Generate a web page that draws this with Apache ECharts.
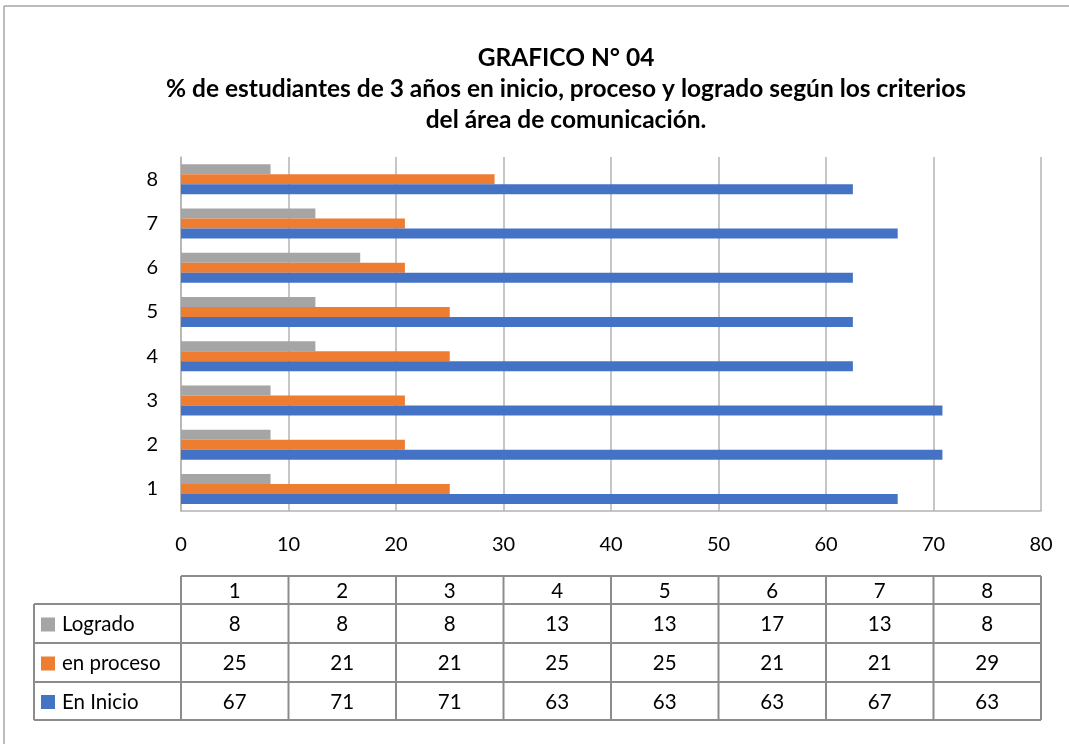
<!DOCTYPE html>
<html>
<head>
<meta charset="utf-8">
<script src="https://cdn.jsdelivr.net/npm/echarts@6/dist/echarts.min.js"></script>
<style>
  html, body { margin: 0; padding: 0; background: #fff; }
  #chart { width: 1069px; height: 744px; }
</style>
</head>
<body>
<div id="chart"></div>
<script>
// datos
const categories = ['1', '2', '3', '4', '5', '6', '7', '8'];
const logrado   = [8.33, 8.33, 8.33, 12.5, 12.5, 16.67, 12.5, 8.33];
const enProceso = [25, 20.83, 20.83, 25, 25, 20.83, 20.83, 29.17];
const enInicio  = [66.67, 70.83, 70.83, 62.5, 62.5, 62.5, 66.67, 62.5];
const seriesNames = ['Logrado', 'en proceso', 'En Inicio'];
const colors = { 'Logrado': '#A5A5A5', 'en proceso': '#ED7D31', 'En Inicio': '#4472C4' };
const titleLines = [
    'GRAFICO N° 04',
    '% de estudiantes de 3 años en inicio, proceso y logrado según los criterios',
    'del área de comunicación.'
];

const FONT = 'Lato';
const chart = echarts.init(document.getElementById('chart'), null, { renderer: 'canvas' });

const barSeries = (name, data) => ({
    name: name,
    type: 'bar',
    data: data,
    barWidth: 10,
    barGap: '0%',
    itemStyle: { color: colors[name] },
    silent: true
});

const option = {
    backgroundColor: '#fff',
    animation: false,
    grid: { left: 181, right: 28, top: 157, bottom: 233, containLabel: false },
    xAxis: {
        type: 'value',
        min: 0,
        max: 80,
        interval: 10,
        axisLine: { show: true, lineStyle: { color: '#b3b3b3', width: 1.5 } },
        axisTick: { show: false },
        splitLine: { show: true, lineStyle: { color: '#b3b3b3', width: 1.5 } },
        axisLabel: { margin: 24, fontFamily: FONT, fontSize: 20, color: '#000' }
    },
    yAxis: {
        type: 'category',
        data: categories,
        axisLine: { show: true, lineStyle: { color: '#b3b3b3', width: 1.5 } },
        axisTick: { show: false },
        axisLabel: { margin: 23, fontFamily: FONT, fontSize: 20, color: '#000' }
    },
    series: [
        barSeries('Logrado', logrado),
        barSeries('en proceso', enProceso),
        barSeries('En Inicio', enInicio)
    ]
};
chart.setOption(option);

// titulo y tabla de datos debajo del grafico
function buildTable() {
    const lineColor = '#8c8c8c';
    const rows = [576, 604, 643, 682, 720];
    const leftX = 34;
    const colX = [];
    for (let i = 0; i <= categories.length; i++) {
        colX.push(chart.convertToPixel({ xAxisIndex: 0 }, i * 10));
    }
    const els = [];
    const line = (x1, y1, x2, y2) => els.push({
        type: 'line', silent: true,
        shape: { x1: x1, y1: y1, x2: x2, y2: y2 },
        style: { stroke: lineColor, lineWidth: 2 }
    });
    const text = (x, y, s, align) => els.push({
        type: 'text', silent: true, x: x, y: y,
        style: { text: s, fill: '#000', font: '20.5px ' + FONT, align: align || 'center', verticalAlign: 'middle' }
    });

    // titulo
    els.push({
        type: 'text', silent: true, x: 566, y: 43,
        style: {
            text: titleLines.join('\n'), fill: '#000', font: 'bold 24.5px ' + FONT,
            lineHeight: 31, align: 'center', verticalAlign: 'top'
        }
    });

    // marco exterior
    els.push({ type: 'line', silent: true, shape: { x1: 4, y1: 6, x2: 1069, y2: 6 }, style: { stroke: '#a6a6a6', lineWidth: 1.5 } });
    els.push({ type: 'line', silent: true, shape: { x1: 4, y1: 6, x2: 4, y2: 744 }, style: { stroke: '#a6a6a6', lineWidth: 1.5 } });

    // lineas horizontales
    line(colX[0], rows[0], colX[colX.length - 1], rows[0]);
    for (let r = 1; r < rows.length; r++) line(leftX, rows[r], colX[colX.length - 1], rows[r]);
    // lineas verticales
    line(leftX, rows[1], leftX, rows[4]);
    colX.forEach(x => line(x, rows[0], x, rows[4]));

    // encabezado
    categories.forEach((c, i) => text((colX[i] + colX[i + 1]) / 2, (rows[0] + rows[1]) / 2 + 1, c));

    const tableData = { 'Logrado': logrado, 'en proceso': enProceso, 'En Inicio': enInicio };
    seriesNames.forEach((name, r) => {
        const yMid = (rows[r + 1] + rows[r + 2]) / 2 + 1;
        els.push({
            type: 'rect', silent: true,
            shape: { x: 41, y: yMid - 7, width: 14, height: 14 },
            style: { fill: colors[name] }
        });
        text(62, yMid, name, 'left');
        tableData[name].forEach((v, i) => text((colX[i] + colX[i + 1]) / 2, yMid, String(Math.round(v))));
    });

    chart.setOption({ graphic: { elements: els } });
}
buildTable();
</script>
</body>
</html>
